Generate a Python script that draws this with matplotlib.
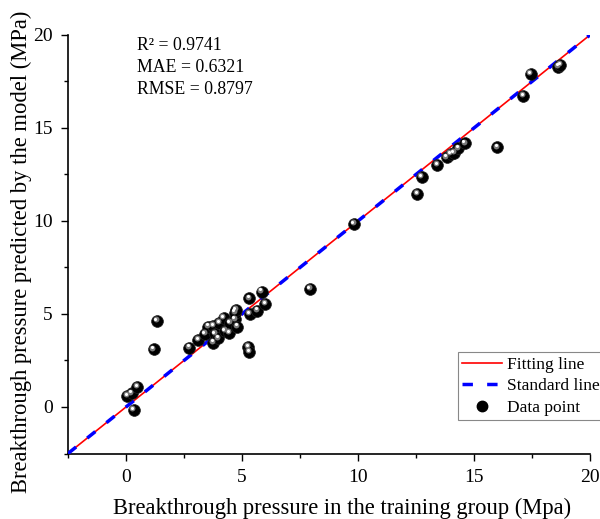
import matplotlib
matplotlib.use("Agg")
import matplotlib.pyplot as plt
import matplotlib.transforms as mtransforms
from matplotlib.lines import Line2D
from matplotlib.ticker import MultipleLocator
import numpy as np

plt.rcParams['font.family'] = ['Liberation Serif', 'DejaVu Serif']
plt.rcParams['mathtext.fontset'] = 'stix'

# Data
actual = [0.06, 0.24, 0.49, 0.34, 1.20, 1.34, 2.73, 3.12, 3.41, 3.55, 3.76, 3.76,
          3.84, 3.98, 4.02, 4.22, 4.27, 4.45, 4.48, 4.70, 4.70, 4.80, 4.74, 5.27,
          5.31, 5.31, 5.34, 5.66, 5.85, 6.00, 7.93, 9.83, 12.56, 12.74, 13.42,
          13.82, 14.00, 14.14, 14.33, 14.61, 16.00, 17.13, 17.44, 18.63, 18.72]
predicted = [0.59, 0.73, 1.06, -0.16, 3.10, 4.62, 3.19, 3.60, 3.92, 4.32, 4.35, 3.46,
             3.92, 3.69, 4.53, 4.77, 4.10, 3.99, 4.50, 4.71, 5.07, 4.32, 5.20, 3.24,
             2.97, 5.84, 5.00, 5.18, 6.20, 5.54, 6.33, 9.84, 11.45, 12.35, 13.01,
             13.42, 13.60, 13.67, 13.90, 14.17, 13.96, 16.72, 17.90, 18.30, 18.39]
fit_slope = 1.0
fit_intercept = 0.0
line_range = [-2.5, 20]
metrics = ["R² = 0.9741", "MAE = 0.6321", "RMSE = 0.8797"]
ticks = [0, 5, 10, 15, 20]

fig = plt.figure(figsize=(6.0, 5.19), dpi=100)
ax = fig.add_axes([0.1133, 0.1262, 0.87, 0.8064])

dash = (0, (3.0, 4.1))
lx = np.array(line_range)
ax.plot(lx, fit_slope * lx + fit_intercept, color='red', lw=1.2, zorder=2)
ax.plot(lx, lx, color='blue', lw=2.5, linestyle=dash, zorder=3)

# sphere-like markers
ax.scatter(actual, predicted, s=72, color='black', edgecolors='#222222', linewidths=0.5, zorder=4)
off1 = mtransforms.offset_copy(ax.transData, fig=fig, x=-1.0, y=1.3, units='points')
ax.scatter(actual, predicted, s=18, color='#7a7a7a', linewidths=0, zorder=5, transform=off1)
off2 = mtransforms.offset_copy(ax.transData, fig=fig, x=-1.2, y=1.6, units='points')
ax.scatter(actual, predicted, s=5, color='white', linewidths=0, zorder=6, transform=off2)

ax.set_xlim(-2.5, 20)
ax.set_ylim(-2.5, 20)
ax.set_xticks(ticks)
ax.set_yticks(ticks)
ax.xaxis.set_minor_locator(MultipleLocator(2.5))
ax.yaxis.set_minor_locator(MultipleLocator(2.5))
ax.tick_params(which='major', direction='out', length=5, width=1, labelsize=14, pad=6)
ax.tick_params(which='minor', direction='out', length=3, width=1)
for s in ['top', 'right']:
    ax.spines[s].set_visible(False)
for s in ['left', 'bottom']:
    ax.spines[s].set_linewidth(1.2)

ax.set_xlabel("Breakthrough pressure in the training group (Mpa)", fontsize=16.3)
ax.set_ylabel("Breakthrough pressure predicted by the model (MPa)", fontsize=16.3)
ax.xaxis.set_label_coords(0.525, -0.106)
ax.yaxis.set_label_coords(-0.068, 0.481)

ax.text(0.132, 0.996, "\n".join(metrics), transform=ax.transAxes, fontsize=12.8,
        va='top', ha='left', linespacing=1.38)

handles = [Line2D([], [], color='red', lw=1.2),
           Line2D([], [], color='blue', lw=2.5, linestyle=dash),
           Line2D([], [], marker='o', color='black', lw=0, markersize=7.5)]
leg = ax.legend(handles, ["Fitting line", "Standard line", "Data point"],
                loc='upper left', bbox_to_anchor=(0.747, 0.242), fontsize=12.5,
                frameon=True, fancybox=False, edgecolor='#888888', framealpha=1,
                borderpad=0.25, labelspacing=0.32, handlelength=2.3, handletextpad=0.25,
                borderaxespad=0)
leg.get_frame().set_linewidth(0.8)

fig.savefig("out.png", dpi=100)
